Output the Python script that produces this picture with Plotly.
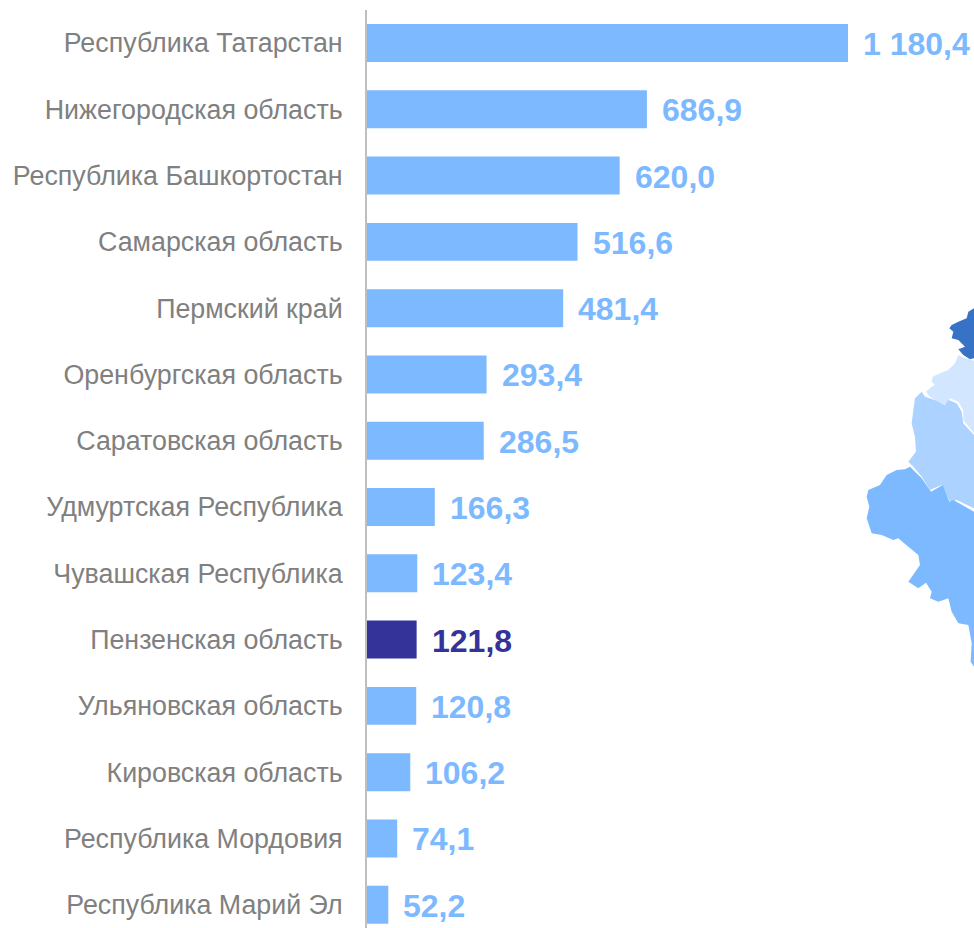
import plotly.graph_objects as go

regions = ["Республика Татарстан", "Нижегородская область", "Республика Башкортостан",
           "Самарская область", "Пермский край", "Оренбургская область",
           "Саратовская область", "Удмуртская Республика", "Чувашская Республика",
           "Пензенская область", "Ульяновская область", "Кировская область",
           "Республика Мордовия", "Республика Марий Эл"]
values = [1180.4, 686.9, 620.0, 516.6, 481.4, 293.4, 286.5, 166.3, 123.4, 121.8, 120.8, 106.2, 74.1, 52.2]
value_labels = ["1 180,4", "686,9", "620,0", "516,6", "481,4", "293,4", "286,5", "166,3",
                "123,4", "121,8", "120,8", "106,2", "74,1", "52,2"]
highlight = "Пензенская область"

BLUE, DARK = "#7DB9FF", "#333399"
W, H = 974, 928
L, T = 367, 10
FONT = "Liberation Sans, Arial, sans-serif"

# Decorative map fragment (outline traced in the crop at origin 850,290, scale 3)
map_dark = [(372,55),(355,65),(350,85),(325,95),(305,105),(298,115),(310,125),(305,145),(325,150),(345,170),(325,178),(340,195),(360,208),(372,205)]
map_light = [(372,212),(345,205),(325,195),(315,220),(295,240),(270,250),(248,260),(245,275),(255,283),(240,295),(228,305),(240,320),(265,335),(290,345),(300,325),(325,335),(340,360),(340,390),(372,430)]
map_mid = [(215,305),(195,325),(190,360),(185,400),(195,440),(198,485),(175,515),(190,530),(215,560),(240,600),(275,585),(300,635),(320,630),(372,655),(372,435),(340,400),(335,365),(320,340),(295,330),(285,345),(255,330),(225,320)]
map_main = [(165,538),(140,540),(110,555),(90,585),(55,600),(50,620),(58,650),(50,685),(65,730),(95,735),(130,750),(145,745),(175,770),(205,795),(210,825),(175,875),(205,895),(228,878),(245,905),(240,925),(265,935),(295,925),(305,965),(325,1000),(355,1005),(365,1060),(362,1115),(372,1130),(372,665),(310,630),(298,635),(278,585),(243,605),(215,565),(180,530)]
map_parts = [(map_dark, "#3872C6"), (map_light, "#D2E6FF"), (map_mid, "#ACD2FF"), (map_main, BLUE)]


def map_path(points):
    coords = []
    for zx, zy in points:
        px, py = 850 + zx / 3, 290 + zy / 3
        coords.append(f"{(px - L) / (W - L):.4f},{1 - (py - T) / (H - T):.4f}")
    return "M" + "L".join(coords) + "Z"


colors = [DARK if r == highlight else BLUE for r in regions]

fig = go.Figure(go.Bar(
    x=values, y=regions, orientation="h", marker=dict(color=colors, line_width=0),
    hoverinfo="skip",
))

for region, value, label, color in zip(regions, values, value_labels, colors):
    fig.add_annotation(x=value, y=region, text=f"<b>{label}</b>", showarrow=False, xanchor="left",
                       xshift=13, yshift=-1, font=dict(family=FONT, size=32, color=color))

fig.update_layout(
    width=W, height=H, autosize=False, showlegend=False,
    margin=dict(l=L, r=0, t=T, b=0), paper_bgcolor="white", plot_bgcolor="white",
    bargap=0.427, font=dict(family=FONT),
    shapes=[dict(type="path", xref="paper", yref="paper", path=map_path(p), fillcolor=c,
                 line_width=0, layer="below") for p, c in map_parts],
    xaxis=dict(range=[0, 1489.6], visible=False, fixedrange=True),
    yaxis=dict(
        type="category", categoryorder="array", categoryarray=regions,
        range=[13.351, -0.498], showgrid=False, zeroline=False, automargin=False,
        showline=True, linecolor="#BFBFBF", linewidth=2, ticks="", ticklabelstandoff=17,
        tickfont=dict(family=FONT, size=26.8, color="#808080"), fixedrange=True,
    ),
)

fig.write_html("out.html", config={"displayModeBar": False},
               post_script="document.documentElement.style.margin='0';document.body.style.margin='0';")
